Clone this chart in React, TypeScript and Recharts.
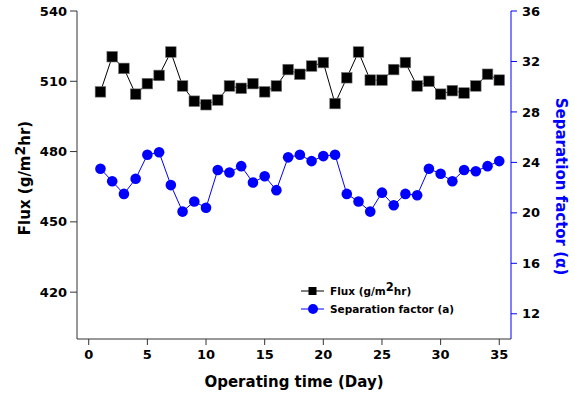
import { ComposedChart, Line, XAxis, YAxis } from 'recharts';

const days = [1, 2, 3, 4, 5, 6, 7, 8, 9, 10, 11, 12, 13, 14, 15, 16, 17, 18, 19, 20, 21, 22, 23, 24, 25, 26, 27, 28, 29, 30, 31, 32, 33, 34, 35];

const flux = [505.5, 520.5, 515.5, 504.5, 509, 512.5, 522.5, 508, 501.5, 500, 502, 508, 507, 509, 505.5, 508, 515, 513, 516.5, 518, 500.5, 511.5, 522.5, 510.5, 510.5, 515, 518, 508, 510, 504.5, 506, 505, 508, 513, 510.5];

const separation = [23.5, 22.5, 21.5, 22.7, 24.6, 24.8, 22.2, 20.1, 20.9, 20.4, 23.4, 23.2, 23.7, 22.4, 22.9, 21.8, 24.4, 24.6, 24.1, 24.5, 24.6, 21.5, 20.9, 20.1, 21.6, 20.6, 21.5, 21.4, 23.5, 23.1, 22.5, 23.4, 23.3, 23.7, 24.1];

const dayTicks = [0, 5, 10, 15, 20, 25, 30, 35];
const fluxTicks = [420, 450, 480, 510, 540];
const sepTicks = [12, 16, 20, 24, 28, 32, 36];

const data = days.map((day, i) => ({ day, flux: flux[i], separation: separation[i] }));

const FONT = '"DejaVu Sans", Verdana, sans-serif';
const BLUE = '#0000ff';
const AXIS = '#333';

function SquareDot(props: any) {
  const { cx, cy } = props;
  if (cx == null || cy == null) return null;
  const s = 10.6;
  return <rect x={cx - s / 2} y={cy - s / 2} width={s} height={s} fill="#000" stroke="#777" strokeWidth={0.6} />;
}

function FluxTitle() {
  return (
    <text x={30} y={178} transform="rotate(-90 30 178)" textAnchor="middle" fontFamily={FONT} fontWeight="bold" fontSize={15} fill="#000">
      Flux (g/m
      <tspan dy={-5} fontSize={14}>2</tspan>
      <tspan dy={5}>hr)</tspan>
    </text>
  );
}

function SepTitle() {
  return (
    <text x={555.5} y={186.5} transform="rotate(90 555.5 186.5)" textAnchor="middle" fontFamily={FONT} fontWeight="bold" fontSize={15} fill={BLUE}>
      Separation factor (α)
    </text>
  );
}

function DayTitle() {
  return (
    <text x={294} y={387} textAnchor="middle" fontFamily={FONT} fontWeight="bold" fontSize={15} fill="#000">
      Operating time (Day)
    </text>
  );
}

function LegendBox() {
  const row = { display: 'flex', alignItems: 'center', height: 18 } as const;
  return (
    <div
      style={{
        position: 'absolute',
        left: 301,
        top: 282,
        fontFamily: FONT,
        fontWeight: 'bold',
        fontSize: 10.5,
        color: '#000',
        lineHeight: '18px',
      }}
    >
      <div style={row}>
        <svg width={24} height={12} style={{ marginRight: 5 }}>
          <line x1={0} y1={6} x2={23} y2={6} stroke="#000" strokeWidth={1} />
          <rect x={7.5} y={2} width={8} height={8} fill="#000" />
        </svg>
        <span>
          Flux (g/m<span style={{ fontSize: 11.5, position: 'relative', top: -4 }}>2</span>hr)
        </span>
      </div>
      <div style={row}>
        <svg width={24} height={12} style={{ marginRight: 5 }}>
          <line x1={0} y1={6} x2={23} y2={6} stroke={BLUE} strokeWidth={1} />
          <circle cx={12} cy={6} r={5} fill={BLUE} />
        </svg>
        <span>Separation factor (a)</span>
      </div>
    </div>
  );
}

export default function App() {
  return (
    <div style={{ position: 'absolute', left: 0, top: 0, width: 575, height: 395, background: '#fff' }}>
      <ComposedChart width={575} height={395} data={data} margin={{ top: 11, right: 0, bottom: 0, left: 0 }}>
        <XAxis
          dataKey="day"
          type="number"
          domain={[-1, 36]}
          ticks={dayTicks}
          height={56}
          stroke={AXIS}
          tickSize={6}
          tickMargin={5}
          tick={{ fill: '#000', fontSize: 13, fontWeight: 'bold', fontFamily: FONT }}
          label={<DayTitle />}
        />
        <XAxis
          xAxisId="top"
          dataKey="day"
          type="number"
          orientation="top"
          domain={[-1, 36]}
          ticks={dayTicks}
          height={0}
          mirror
          stroke={AXIS}
          tickSize={4}
          tick={false}
        />
        <YAxis
          yAxisId="flux"
          domain={[400, 540]}
          ticks={fluxTicks}
          width={77}
          stroke={AXIS}
          tickSize={7}
          tickMargin={3}
          tick={{ fill: '#000', fontSize: 13, fontWeight: 'bold', fontFamily: FONT }}
          label={<FluxTitle />}
        />
        <YAxis
          yAxisId="sep"
          orientation="right"
          domain={[10, 36]}
          ticks={sepTicks}
          width={64}
          stroke={BLUE}
          tickSize={6}
          tickMargin={5}
          tick={{ fill: '#000', fontSize: 13, fontWeight: 'bold', fontFamily: FONT }}
          label={<SepTitle />}
        />
        <Line
          yAxisId="flux"
          dataKey="flux"
          type="linear"
          stroke="#000"
          strokeWidth={1}
          dot={(p: any) => <SquareDot key={`sq-${p.index}`} {...p} />}
          activeDot={false}
          isAnimationActive={false}
        />
        <Line
          yAxisId="sep"
          dataKey="separation"
          type="linear"
          stroke={BLUE}
          strokeWidth={1}
          dot={{ r: 5.3, fill: BLUE, stroke: BLUE, strokeWidth: 0 }}
          activeDot={false}
          isAnimationActive={false}
        />
      </ComposedChart>
      <LegendBox />
    </div>
  );
}
